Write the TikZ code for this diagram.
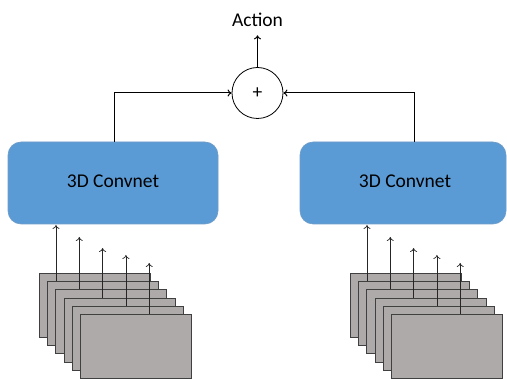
\documentclass[tikz,border=0pt]{standalone}
\usepackage{fontspec}
\setmainfont{Carlito}
\usetikzlibrary{arrows.meta,calc}
\definecolor{netblue}{RGB}{91,155,213}
\definecolor{netedge}{RGB}{110,155,200}
\definecolor{framegray}{RGB}{174,170,170}
\definecolor{frameedge}{RGB}{64,64,64}
\tikzset{
  net/.style={draw=netedge,line width=0.6pt,fill=netblue,rounded corners=13pt,
    minimum height=82pt,text depth=4pt,font=\fontsize{19.5}{23}\selectfont},
  frame/.style={draw=frameedge,line width=0.8pt,fill=framegray,anchor=north west,
    minimum width=111pt,minimum height=64pt,inner sep=0pt},
  feed/.style={->,line width=0.7pt,draw=black!85},
  link/.style={->,line width=1pt}
}
\begin{document}
\begin{tikzpicture}[x=1pt,y=-1pt,>={To[length=4pt,width=7pt]},
    font=\fontsize{19.5}{23}\selectfont]
  \useasboundingbox (0,0) rectangle (507,379);
  %% sum and output
  \node[draw,circle,line width=0.8pt,minimum size=51pt,inner sep=0pt] (sum) at (257.5,93) {+};
  \node[inner sep=0pt,anchor=base] (action) at (257.5,27) {Action};
  \draw[link] (sum.north) -- ([yshift=-8pt]action.south);
  %% the two networks
  \node[net,minimum width=210pt] (leftnet) at (113,183) {3D Convnet};
  \node[net,minimum width=206pt] (rightnet) at (403,183) {\hspace*{4pt}3D Convnet};
  \draw[link] ([xshift=1pt]leftnet.north) |- (sum.west);
  \draw[link] ([xshift=11pt]rightnet.north) |- (sum.east);
  %% stacks of frames
  \foreach \s/\x in {l/39,r/350}{
    \foreach \k in {1,...,6}
      \node[frame] (\s f\k) at ({\x+8.2*(\k-1)},{273+8.2*(\k-1)}) {};
    \foreach \k/\dx/\tip in {1/8.8/225,2/23.9/237,3/39/248,4/54.1/255,5/69.2/263}{
      \pgfmathtruncatemacro{\n}{\k+1}
      \coordinate (\s tip\k) at ($(\s f\n.north west)+(\dx,0)$);
      \draw[feed] (\s tip\k) -- (\s tip\k |- 0,\tip);
    }
  }
\end{tikzpicture}
\end{document}
